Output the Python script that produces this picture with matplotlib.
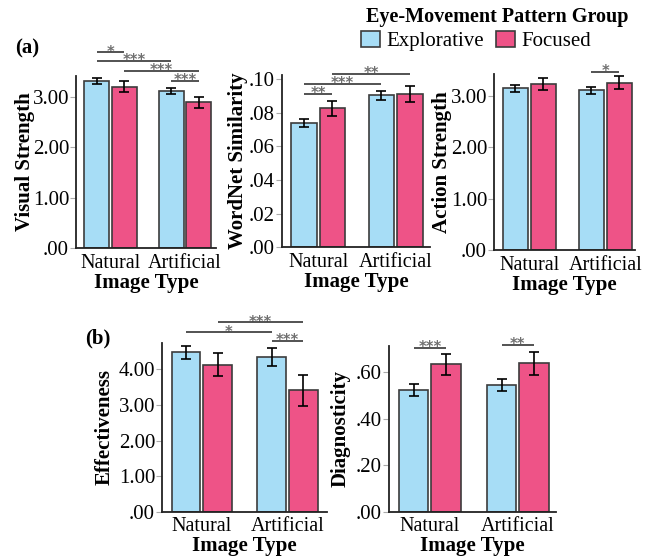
import matplotlib
matplotlib.use("Agg")
import matplotlib.pyplot as plt
from matplotlib.patches import Patch
import numpy as np

plt.rcParams['font.family'] = ['Liberation Serif', 'DejaVu Serif']

# ---------------- data ----------------
categories = ['Natural', 'Artificial']
groups = ['Explorative', 'Focused']

visual_expl = [3.33, 3.12]
visual_expl_err = [0.06, 0.06]
visual_foc = [3.21, 2.90]
visual_foc_err = [0.11, 0.11]

wordnet_expl = [0.0738, 0.0902]
wordnet_expl_err = [0.0025, 0.0027]
wordnet_foc = [0.0825, 0.0912]
wordnet_foc_err = [0.0045, 0.0047]

action_expl = [3.15, 3.11]
action_expl_err = [0.07, 0.07]
action_foc = [3.23, 3.26]
action_foc_err = [0.12, 0.12]

eff_expl = [4.48, 4.34]
eff_expl_err = [0.18, 0.25]
eff_foc = [4.13, 3.41]
eff_foc_err = [0.32, 0.43]

diag_expl = [0.525, 0.545]
diag_expl_err = [0.025, 0.027]
diag_foc = [0.634, 0.638]
diag_foc_err = [0.044, 0.049]

ticks_strength = [0, 1, 2, 3]
ticklabels_strength = ['.00', '1.00', '2.00', '3.00']
ticks_wordnet = [0, 0.02, 0.04, 0.06, 0.08, 0.10]
ticklabels_wordnet = ['.00', '.02', '.04', '.06', '.08', '.10']
ticks_eff = [0, 1, 2, 3, 4]
ticklabels_eff = ['.00', '1.00', '2.00', '3.00', '4.00']
ticks_diag = [0, 0.2, 0.4, 0.6]
ticklabels_diag = ['.00', '.20', '.40', '.60']

# significance brackets: (bar i, bar j, height, label); bars: 0=Nat-Expl,1=Nat-Foc,2=Art-Expl,3=Art-Foc
sig_visual = [(0, 1, 3.89, '*'), (0, 2, 3.72, '***'), (1, 3, 3.52, '***'), (2, 3, 3.33, '***')]
sig_wordnet = [(0, 1, 0.0911, '**'), (0, 2, 0.0968, '***'), (1, 3, 0.1030, '**')]
sig_action = [(2, 3, 3.47, '*')]
sig_eff = [(0, 2, 5.04, '*'), (1, 3, 5.32, '***'), (2, 3, 4.80, '***')]
sig_diag = [(0, 1, 0.704, '***'), (2, 3, 0.716, '**')]

# ---------------- style ----------------
BLUE = '#A7DDF6'
PINK = '#EE5387'
EDGE = '#3c3c3c'
W, H = 654, 560

fig = plt.figure(figsize=(W / 100, H / 100), dpi=100)


def px_axes(left, right, bottom, top):
    return fig.add_axes([left / W, 1 - bottom / H, (right - left) / W, (bottom - top) / H])


def panel(ax, expl, expl_err, foc, foc_err, ylim, xmax, ticks, ticklabels, ylabel, sigs, lpad):
    x = np.arange(len(categories))
    d, bw = 0.185, 0.333
    ax.bar(x - d, expl, bw, color=BLUE, edgecolor=EDGE, linewidth=1.2, zorder=2)
    ax.bar(x + d, foc, bw, color=PINK, edgecolor=EDGE, linewidth=1.2, zorder=2)
    ax.errorbar(x - d, expl, yerr=expl_err, fmt='none', ecolor='black', elinewidth=1.2,
                capsize=3.5, capthick=1.2, zorder=3)
    ax.errorbar(x + d, foc, yerr=foc_err, fmt='none', ecolor='black', elinewidth=1.2,
                capsize=3.5, capthick=1.2, zorder=3)
    ax.set_xlim(-0.465, xmax)
    ax.set_ylim(*ylim)
    ax.set_xticks(x)
    ax.set_xticklabels(categories, fontsize=14.5)
    ax.set_yticks(ticks)
    ax.set_yticklabels(ticklabels, fontsize=15)
    ax.tick_params(axis='x', length=0, pad=4)
    ax.tick_params(axis='y', length=4, width=0.8, color='#aaaaaa', pad=1)
    ax.set_xlabel('Image Type', fontsize=15, fontweight='bold', labelpad=0)
    ax.set_ylabel(ylabel, fontsize=15, fontweight='bold', labelpad=lpad)
    for s in ['top', 'right']:
        ax.spines[s].set_visible(False)
    for s in ['left', 'bottom']:
        ax.spines[s].set_linewidth(1.3)
        ax.spines[s].set_color('#222222')
    pos = [x[0] - d, x[0] + d, x[1] - d, x[1] + d]
    for i, j, y, lab in sigs:
        ax.plot([pos[i], pos[j]], [y, y], color='#444444', lw=1.3, clip_on=False, zorder=4,
                solid_capstyle='butt')
        ax.annotate(lab, xy=((pos[i] + pos[j]) / 2, y), xytext=(0, -3.0), textcoords='offset points',
                    ha='center', va='baseline', fontsize=10.5, color='#707070',
                    family='DejaVu Sans', fontweight='bold', annotation_clip=False)


ax1 = px_axes(76, 216, 248, 76)
panel(ax1, visual_expl, visual_expl_err, visual_foc, visual_foc_err, (0, 3.42), 1.418,
      ticks_strength, ticklabels_strength, 'Visual Strength', sig_visual, -1.5)

ax2 = px_axes(282, 430, 247.3, 75)
panel(ax2, wordnet_expl, wordnet_expl_err, wordnet_foc, wordnet_foc_err, (0, 0.1023), 1.44,
      ticks_wordnet, ticklabels_wordnet, 'WordNet Similarity', sig_wordnet, 0.5)

ax3 = px_axes(494, 635, 250, 74.3)
panel(ax3, action_expl, action_expl_err, action_foc, action_foc_err, (0, 3.42), 1.39,
      ticks_strength, ticklabels_strength, 'Action Strength', sig_action, -1.0)

ax4 = px_axes(162, 327, 511.7, 342.7)
panel(ax4, eff_expl, eff_expl_err, eff_foc, eff_foc_err, (0, 4.75), 1.46,
      ticks_eff, ticklabels_eff, 'Effectiveness', sig_eff, 3)

ax5 = px_axes(389, 556, 511.7, 346)
panel(ax5, diag_expl, diag_expl_err, diag_foc, diag_foc_err, (0, 0.713), 1.435,
      ticks_diag, ticklabels_diag, 'Diagnosticity', sig_diag, 4)

fig.text(27 / W, 1 - 48 / H, '(a)', fontsize=15, fontweight='bold', ha='center', va='center')
fig.text(98 / W, 1 - 338 / H, '(b)', fontsize=15, fontweight='bold', ha='center', va='center')

fig.text(497 / W, 1 - 17 / H, 'Eye-Movement Pattern Group', fontsize=14.5, fontweight='bold',
         ha='center', va='center')
handles = [Patch(facecolor=BLUE, edgecolor=EDGE, linewidth=1.2),
           Patch(facecolor=PINK, edgecolor=EDGE, linewidth=1.2)]
fig.legend(handles, groups, loc='center left', bbox_to_anchor=(361 / W, 1 - 41 / H),
           ncol=2, frameon=False, fontsize=15, handlelength=0.9, handleheight=0.85,
           handletextpad=0.3, columnspacing=0.6, borderpad=0, borderaxespad=0)

fig.savefig('out.png', dpi=100)
